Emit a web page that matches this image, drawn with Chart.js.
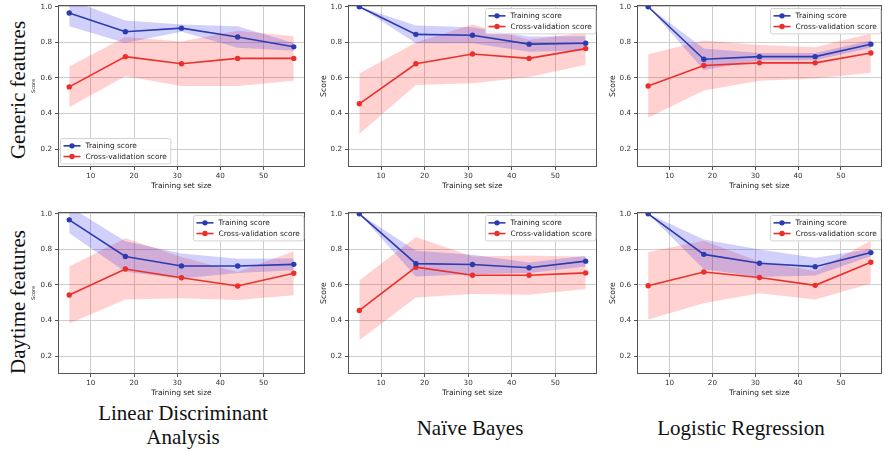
<!DOCTYPE html>
<html>
<head>
<meta charset="utf-8">
<script src="https://cdn.jsdelivr.net/npm/chart.js@4.4.1/dist/chart.umd.min.js"></script>
<style>
  html, body { margin: 0; padding: 0; background: #fff; overflow: hidden; }
  #page { position: relative; width: 885px; height: 452px; }
  #page canvas { position: absolute; }
  .lbl { position: absolute; font-family: "Liberation Serif", "Times New Roman", serif; color: #111;
         white-space: nowrap; text-align: center; font-size: 21px; line-height: 24px; }
  .row { transform: translate(-50%, -50%) rotate(-90deg); }
  .col { transform: translate(-50%, -50%); }
</style>
</head>
<body>
<div id="page">
  <div class="lbl row" style="left:18px; top:90px;">Generic features</div>
  <div class="lbl row" style="left:18px; top:302px;">Daytime features</div>
  <div class="lbl col" style="left:183px; top:425px;">Linear Discriminant<br>Analysis</div>
  <div class="lbl col" style="left:470px; top:428px;">Naïve Bayes</div>
  <div class="lbl col" style="left:741px; top:428px;">Logistic Regression</div>
</div>
<script>
// training set sizes (x axis)
const trainSizes = [5, 18, 31, 44, 57];
const xTicks = [10, 20, 30, 40, 50];
const yTicks = [0.2, 0.4, 0.6, 0.8, 1.0];
const seriesNames = ['Training score', 'Cross-validation score'];
const modelNames = ['Linear Discriminant Analysis', 'Naïve Bayes', 'Logistic Regression'];
const featureSets = ['Generic features', 'Daytime features'];

// generic features
const ldaGenTrainMean = [0.965, 0.86, 0.88, 0.83, 0.775];
const ldaGenTrainStd  = [0.075, 0.063, 0.02, 0.06, 0.022];
const ldaGenCvMean    = [0.55, 0.72, 0.68, 0.71, 0.71];
const ldaGenCvStd     = [0.115, 0.11, 0.125, 0.155, 0.125];

const nbGenTrainMean = [1.0, 0.845, 0.84, 0.79, 0.795];
const nbGenTrainStd  = [0.0, 0.05, 0.045, 0.043, 0.04];
const nbGenCvMean    = [0.455, 0.68, 0.735, 0.71, 0.765];
const nbGenCvStd     = [0.17, 0.12, 0.165, 0.105, 0.09];

const lrGenTrainMean = [1.0, 0.705, 0.72, 0.72, 0.79];
const lrGenTrainStd  = [0.0, 0.06, 0.02, 0.02, 0.02];
const lrGenCvMean    = [0.555, 0.67, 0.685, 0.685, 0.74];
const lrGenCvStd     = [0.178, 0.14, 0.1, 0.088, 0.11];

// daytime features
const ldaDayTrainMean = [0.966, 0.76, 0.707, 0.707, 0.716];
const ldaDayTrainStd  = [0.075, 0.085, 0.07, 0.04, 0.033];
const ldaDayCvMean    = [0.544, 0.69, 0.641, 0.594, 0.666];
const ldaDayCvStd     = [0.16, 0.172, 0.116, 0.079, 0.124];

const nbDayTrainMean = [1.0, 0.72, 0.715, 0.697, 0.734];
const nbDayTrainStd  = [0.0, 0.072, 0.055, 0.03, 0.03];
const nbDayCvMean    = [0.457, 0.70, 0.655, 0.655, 0.668];
const nbDayCvStd     = [0.168, 0.17, 0.105, 0.11, 0.09];

const lrDayTrainMean = [1.0, 0.772, 0.722, 0.703, 0.782];
const lrDayTrainStd  = [0.0, 0.084, 0.077, 0.05, 0.02];
const lrDayCvMean    = [0.596, 0.673, 0.642, 0.598, 0.728];
const lrDayCvStd     = [0.19, 0.175, 0.088, 0.08, 0.12];

const trainColor = '#2c3bb0';
const cvColor = '#eb2f2a';

// spines on all four sides, like matplotlib
const frame = {
  id: 'frame',
  afterDatasetsDraw(chart) {
    const a = chart.chartArea, ctx = chart.ctx;
    ctx.save();
    ctx.strokeStyle = '#555';
    ctx.lineWidth = 1;
    ctx.strokeRect(Math.round(a.left) + 0.5, Math.round(a.top) + 0.5,
                   Math.round(a.right - a.left) - 1, Math.round(a.bottom - a.top) - 1);
    ctx.restore();
  }
};

// legend inside the axes
const insideLegend = {
  id: 'insideLegend',
  afterDraw(chart, args, opts) {
    const ctx = chart.ctx, a = chart.chartArea;
    const items = chart.data.datasets.filter(d => d.legend);
    ctx.save();
    ctx.font = '7.4px "DejaVu Sans"';
    const textW = Math.max.apply(null, items.map(d => ctx.measureText(d.label).width));
    const rowH = 10.7;
    const w = 25 + textW + 4, h = items.length * rowH + 4;
    let x, y;
    if (opts.position === 'lower-left') { x = a.left + 2; y = a.bottom - 4 - h; }
    else { x = a.right - 2 - w; y = a.top + 3; }
    x = Math.round(x) + 0.5; y = Math.round(y) + 0.5;
    ctx.fillStyle = 'rgba(255,255,255,0.85)';
    ctx.strokeStyle = '#d3d3d3';
    ctx.lineWidth = 1;
    ctx.beginPath();
    ctx.roundRect(x, y, w, h, 2);
    ctx.fill();
    ctx.stroke();
    items.forEach((d, k) => {
      const cy = y + 2 + rowH * (k + 0.5);
      ctx.strokeStyle = d.borderColor;
      ctx.lineWidth = 1.6;
      ctx.beginPath(); ctx.moveTo(x + 3, cy); ctx.lineTo(x + 20, cy); ctx.stroke();
      ctx.fillStyle = d.borderColor;
      ctx.beginPath(); ctx.arc(x + 11.5, cy, 2.7, 0, Math.PI * 2); ctx.fill();
      ctx.fillStyle = '#222';
      ctx.textBaseline = 'middle';
      ctx.fillText(d.label, x + 25, cy + 0.5);
    });
    ctx.restore();
  }
};

function band(mean, std, sign) {
  return mean.map((m, i) => ({ x: trainSizes[i], y: m + sign * std[i] }));
}
function pts(mean) {
  return mean.map((m, i) => ({ x: trainSizes[i], y: m }));
}

function makePanel(left, top, width, trM, trS, cvM, cvS, legendPos, scoreSize) {
  const yW = 45, padT = 6, padR = 4, xH = 30, plotH = 162;
  const canvas = document.createElement('canvas');
  canvas.width = yW + width + padR;
  canvas.height = padT + plotH + xH;
  canvas.style.left = (left - yW) + 'px';
  canvas.style.top = (top - padT) + 'px';
  document.getElementById('page').appendChild(canvas);

  const hidden = { borderWidth: 0, borderColor: 'transparent', pointRadius: 0, tension: 0 };
  new Chart(canvas, {
    type: 'line',
    data: {
      datasets: [
        Object.assign({ data: band(trM, trS, 1), fill: false }, hidden),
        Object.assign({ data: band(trM, trS, -1), fill: '-1', backgroundColor: 'rgba(20,20,230,0.2)' }, hidden),
        Object.assign({ data: band(cvM, cvS, 1), fill: false }, hidden),
        Object.assign({ data: band(cvM, cvS, -1), fill: '-1', backgroundColor: 'rgba(255,0,0,0.18)' }, hidden),
        { label: seriesNames[0], legend: true, data: pts(trM), borderColor: trainColor, backgroundColor: trainColor,
          borderWidth: 1.6, pointRadius: 2.7, pointBorderWidth: 0, fill: false, tension: 0 },
        { label: seriesNames[1], legend: true, data: pts(cvM), borderColor: cvColor, backgroundColor: cvColor,
          borderWidth: 1.6, pointRadius: 2.7, pointBorderWidth: 0, fill: false, tension: 0 }
      ]
    },
    options: {
      responsive: false,
      animation: false,
      devicePixelRatio: 1,
      layout: { padding: { top: padT, right: padR, left: 0, bottom: 0 } },
      plugins: {
        legend: { display: false },
        tooltip: { enabled: false },
        filler: { drawTime: 'beforeDatasetsDraw' },
        insideLegend: { position: legendPos }
      },
      scales: {
        x: {
          type: 'linear',
          min: 2.4,
          max: 59.6,
          afterFit(s) { s.height = xH; s.paddingLeft = 0; s.paddingRight = 0; },
          afterBuildTicks(s) { s.ticks = xTicks.map(v => ({ value: v })); },
          ticks: { color: '#333', font: { family: 'DejaVu Sans', size: 7.2 }, padding: 2, maxRotation: 0,
                   callback: v => String(v) },
          grid: { color: '#cdcdcd', lineWidth: 1, tickLength: 3, tickColor: '#555' },
          border: { display: false },
          title: { display: true, text: 'Training set size', color: '#222',
                   font: { family: 'DejaVu Sans', size: 7.5 }, padding: { top: 0, bottom: 6 } }
        },
        y: {
          min: 0.1,
          max: 1.01,
          afterFit(s) { s.width = yW; s.paddingTop = 0; s.paddingBottom = 0; },
          afterBuildTicks(s) { s.ticks = yTicks.map(v => ({ value: v })); },
          ticks: { color: '#333', font: { family: 'DejaVu Sans', size: 7.2 }, padding: 3,
                   callback: v => v.toFixed(1) },
          grid: { color: '#cdcdcd', lineWidth: 1, tickLength: 3, tickColor: '#555' },
          border: { display: false },
          title: { display: true, text: 'Score', color: '#222',
                   font: { family: 'DejaVu Sans', size: scoreSize },
                   padding: { top: 21 - scoreSize * 0.6, bottom: 0 } }
        }
      }
    },
    plugins: [frame, insideLegend]
  });
}

makePanel(58, 5, 247, ldaGenTrainMean, ldaGenTrainStd, ldaGenCvMean, ldaGenCvStd, 'lower-left', 5);
makePanel(348, 5, 249, nbGenTrainMean, nbGenTrainStd, nbGenCvMean, nbGenCvStd, 'upper-right', 7.8);
makePanel(637, 5, 245, lrGenTrainMean, lrGenTrainStd, lrGenCvMean, lrGenCvStd, 'upper-right', 7.8);
makePanel(58, 212, 247, ldaDayTrainMean, ldaDayTrainStd, ldaDayCvMean, ldaDayCvStd, 'upper-right', 5);
makePanel(348, 212, 249, nbDayTrainMean, nbDayTrainStd, nbDayCvMean, nbDayCvStd, 'upper-right', 7.8);
makePanel(637, 212, 245, lrDayTrainMean, lrDayTrainStd, lrDayCvMean, lrDayCvStd, 'upper-right', 7.8);
</script>
</body>
</html>
